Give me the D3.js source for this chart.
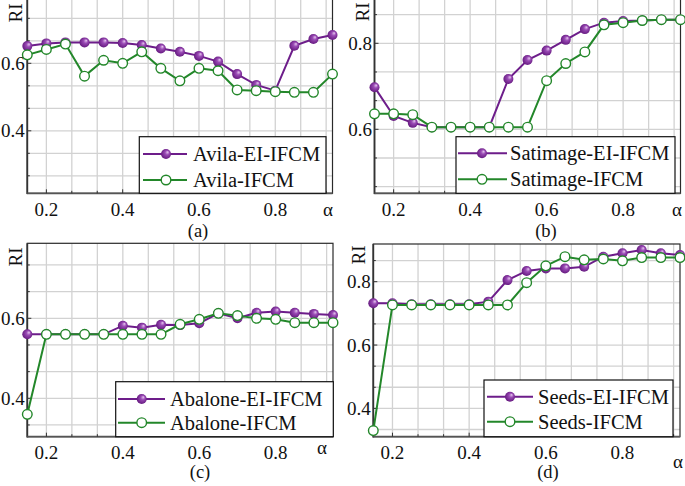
<!DOCTYPE html>
<html><head><meta charset="utf-8">
<script src="https://cdn.jsdelivr.net/npm/d3@7/dist/d3.min.js"></script>
<style>body{margin:0;background:#fff}svg{display:block}</style>
</head><body>
<svg id="chart" width="685" height="486"></svg>
<script>
const alpha = [0.15,0.2,0.25,0.3,0.35,0.4,0.45,0.5,0.55,0.6,0.65,0.7,0.75,0.8,0.85,0.9,0.95];
const xTicks = [0.2,0.4,0.6,0.8];

const avilaEI    = [0.651,0.659,0.662,0.662,0.662,0.660,0.654,0.644,0.634,0.622,0.605,0.568,0.536,0.519,0.652,0.672,0.684];
const avilaIFCM  = [0.625,0.641,0.657,0.562,0.609,0.600,0.634,0.585,0.548,0.585,0.578,0.521,0.519,0.516,0.514,0.514,0.568];
const satEI      = [0.698,0.631,0.615,0.605,0.605,0.605,0.605,0.717,0.761,0.783,0.808,0.833,0.848,0.852,0.853,0.855,0.855];
const satIFCM    = [0.636,0.636,0.634,0.605,0.605,0.605,0.605,0.605,0.605,0.713,0.753,0.780,0.843,0.848,0.853,0.855,0.855];
const abaEI      = [0.560,0.560,0.560,0.560,0.560,0.5815,0.5766,0.584,0.583,0.5875,0.6125,0.600,0.614,0.6167,0.614,0.611,0.608];
const abaIFCM    = [0.360,0.560,0.560,0.560,0.560,0.560,0.560,0.560,0.585,0.5975,0.6125,0.6067,0.600,0.5975,0.589,0.589,0.589];
const seedsEI    = [0.732,0.732,0.729,0.729,0.729,0.729,0.737,0.805,0.834,0.842,0.842,0.847,0.879,0.890,0.900,0.890,0.884];
const seedsIFCM  = [0.330,0.7265,0.7265,0.7265,0.7265,0.7265,0.7265,0.7265,0.797,0.850,0.879,0.869,0.8717,0.866,0.876,0.876,0.876];

const yTicksA = [0.4,0.6];
const yTicksB = [0.6,0.8];
const yTicksC = [0.4,0.6];
const yTicksD = [0.4,0.6,0.8];

const namesA = ["Avila-EI-IFCM","Avila-IFCM"];
const namesB = ["Satimage-EI-IFCM","Satimage-IFCM"];
const namesC = ["Abalone-EI-IFCM","Abalone-IFCM"];
const namesD = ["Seeds-EI-IFCM","Seeds-IFCM"];
const subLabels = ["(a)","(b)","(c)","(d)"];

const PURPLE = "#6d1d8a", GREEN = "#23872a";
const FONT = "'Liberation Serif','Times New Roman',serif";

const svg = d3.select("#chart");
const defs = svg.append("defs");
const grad = defs.append("radialGradient").attr("id","sph").attr("cx","0.5").attr("cy","0.5").attr("r","0.6").attr("fx","0.68").attr("fy","0.3");
grad.append("stop").attr("offset","0").attr("stop-color","#e8c9f0");
grad.append("stop").attr("offset","0.35").attr("stop-color","#9a4bb5");
grad.append("stop").attr("offset","1").attr("stop-color","#5a0f74");

const panels = [
  {x0:27.3, x1:332.5, top:0,     bottom:193.3, yd:[0.2148,0.7876], ei:avilaEI, ifcm:avilaIFCM, yt:yTicksA, names:namesA, sub:subLabels[0],
   leg:{x:139.3,y:136.7,w:186.7,h:56.6, lx0:143,lx1:187,mx:166,tx:193,r1:154,r2:180}, sl:[198,230.5], al:[328,210], ri:[15,13]},
  {x0:374.5, x1:680.5, top:0,    bottom:193.3, yd:[0.4512,0.9007], ei:satEI, ifcm:satIFCM, yt:yTicksB, names:namesB, sub:subLabels[1],
   leg:{x:456,y:136.7,w:219,h:56.6, lx0:458,lx1:507,mx:482,tx:510,r1:153.3,r2:179.3}, sl:[546,230.5], al:[677,210], ri:[362,12]},
  {x0:27.3, x1:333, top:243.3,   bottom:436.7, yd:[0.304,0.7875], ei:abaEI, ifcm:abaIFCM, yt:yTicksC, names:namesC, sub:subLabels[2],
   leg:{x:115.7,y:381.7,w:217.6,h:55, lx0:118,lx1:165,mx:141.7,tx:170,r1:399,r2:422.7}, sl:[200,471], al:[322,448], ri:[15,257]},
  {x0:373.3, x1:680, top:244,    bottom:436.7, yd:[0.3106,0.919], ei:seedsEI, ifcm:seedsIFCM, yt:yTicksD, names:namesD, sub:subLabels[3],
   leg:{x:484,y:380,w:189,h:56.7, lx0:487,lx1:533,mx:510,tx:538,r1:396.7,r2:421.7}, sl:[548,471], al:[678,462], ri:[358,255]}
];

panels.forEach(p => {
  const g = svg.append("g");
  const x = d3.scaleLinear().domain([0.15,0.95]).range([p.x0,p.x1]);
  const y = d3.scaleLinear().domain(p.yd).range([p.bottom,p.top]);
  const gx = d3.range(3,15).map(k=>k/15).filter(v=>v>0.151 && v<0.949);
  const gy = d3.range(0,15).map(k=>k/15).filter(v=>v>p.yd[0]+0.002 && v<p.yd[1]-0.002);
  g.selectAll(".gx").data(gx).enter().append("line")
    .attr("x1",d=>x(d)).attr("x2",d=>x(d)).attr("y1",p.top).attr("y2",p.bottom)
    .attr("stroke","#d2d2d2").attr("stroke-width",1.3);
  g.selectAll(".gy").data(gy).enter().append("line")
    .attr("x1",p.x0).attr("x2",p.x1).attr("y1",d=>y(d)).attr("y2",d=>y(d))
    .attr("stroke","#d2d2d2").attr("stroke-width",1.3);
  const ft = p.top===0?-3:p.top;
  g.append("rect").attr("x",p.x0).attr("y",ft).attr("width",p.x1-p.x0)
    .attr("height",p.bottom-ft).attr("fill","none").attr("stroke","#2a2a2a").attr("stroke-width",1.2);
  g.append("line").attr("x1",p.x0).attr("x2",p.x0).attr("y1",p.top===0?0:p.top).attr("y2",p.bottom+0.8).attr("stroke","#333").attr("stroke-width",1.8);
  g.append("line").attr("x1",p.x0).attr("x2",p.x1).attr("y1",p.bottom).attr("y2",p.bottom).attr("stroke","#555").attr("stroke-width",1.8);
  g.selectAll(".tx").data(gx).enter().append("line")
    .attr("x1",d=>x(d)).attr("x2",d=>x(d)).attr("y1",p.bottom).attr("y2",d=>p.bottom-(xTicks.some(t=>Math.abs(t-d)<1e-6)?4:2.5))
    .attr("stroke","#333").attr("stroke-width",1);
  g.selectAll(".ty").data(gy).enter().append("line")
    .attr("x1",p.x0).attr("x2",d=>p.x0+(p.yt.some(t=>Math.abs(t-d)<1e-6)?4:2.5)).attr("y1",d=>y(d)).attr("y2",d=>y(d))
    .attr("stroke","#333").attr("stroke-width",1);
  g.selectAll(".xl").data(xTicks).enter().append("text")
    .attr("x",d=>x(d)).attr("y",p.bottom+22.5).attr("text-anchor","middle")
    .attr("font-family",FONT).attr("font-size",19).attr("fill","#111").text(d=>d3.format(".1f")(d));
  g.selectAll(".yl").data(p.yt).enter().append("text")
    .attr("x",p.x0-2.5).attr("y",d=>y(d)+6.5).attr("text-anchor","end")
    .attr("font-family",FONT).attr("font-size",19).attr("fill","#111").text(d=>d3.format(".1f")(d));
  g.append("text").attr("transform",`translate(${p.ri[0]+6.5},${p.ri[1]}) rotate(-90)`).attr("text-anchor","middle")
    .attr("font-family",FONT).attr("font-size",19).attr("fill","#111").text("RI");
  g.append("text").attr("x",p.al[0]).attr("y",p.al[1]+6).attr("text-anchor","middle")
    .attr("font-family",FONT).attr("font-size",19).attr("fill","#111").text("α");
  g.append("text").attr("x",p.sl[0]).attr("y",p.sl[1]+6.5).attr("text-anchor","middle")
    .attr("font-family",FONT).attr("font-size",18.5).attr("fill","#111").text(p.sub);

  const line = d3.line().x((d,i)=>x(alpha[i])).y(d=>y(d));
  g.append("path").datum(p.ei).attr("d",line).attr("fill","none").attr("stroke",PURPLE).attr("stroke-width",2);
  g.selectAll(".pe").data(p.ei).enter().append("circle")
    .attr("cx",(d,i)=>x(alpha[i])).attr("cy",d=>y(d)).attr("r",5).attr("fill","url(#sph)");
  g.append("path").datum(p.ifcm).attr("d",line).attr("fill","none").attr("stroke",GREEN).attr("stroke-width",2);
  g.selectAll(".pg").data(p.ifcm).enter().append("circle")
    .attr("cx",(d,i)=>x(alpha[i])).attr("cy",d=>y(d)).attr("r",4.8).attr("fill","#fff").attr("stroke",GREEN).attr("stroke-width",1.4);

  const L = p.leg;
  const lg = g.append("g");
  lg.append("rect").attr("x",L.x).attr("y",L.y).attr("width",L.w).attr("height",L.h)
    .attr("fill","#fff").attr("stroke","#111").attr("stroke-width",1.2);
  lg.append("line").attr("x1",L.lx0).attr("x2",L.lx1).attr("y1",L.r1).attr("y2",L.r1).attr("stroke",PURPLE).attr("stroke-width",2);
  lg.append("circle").attr("cx",L.mx).attr("cy",L.r1).attr("r",5).attr("fill","url(#sph)");
  lg.append("line").attr("x1",L.lx0).attr("x2",L.lx1).attr("y1",L.r2).attr("y2",L.r2).attr("stroke",GREEN).attr("stroke-width",2);
  lg.append("circle").attr("cx",L.mx).attr("cy",L.r2).attr("r",4.8).attr("fill","#fff").attr("stroke",GREEN).attr("stroke-width",1.4);
  lg.append("text").attr("x",L.tx).attr("y",L.r1+6.8).attr("font-family",FONT).attr("font-size",20.5).attr("fill","#111").text(p.names[0]);
  lg.append("text").attr("x",L.tx).attr("y",L.r2+6.8).attr("font-family",FONT).attr("font-size",20.5).attr("fill","#111").text(p.names[1]);
});
</script>
</body></html>
